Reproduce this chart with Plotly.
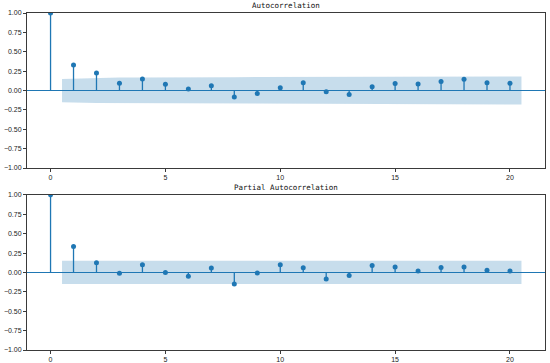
import plotly.graph_objects as go
from plotly.subplots import make_subplots

lags = list(range(0, 21))
acf_values = [1.0, 0.33, 0.225, 0.095, 0.15, 0.08, 0.02, 0.06, -0.085, -0.04,
              0.035, 0.10, -0.015, -0.05, 0.05, 0.09, 0.085, 0.115, 0.145, 0.10, 0.095]
pacf_values = [1.0, 0.335, 0.127, -0.01, 0.10, 0.0, -0.05, 0.057, -0.15, -0.005,
               0.10, 0.06, -0.085, -0.04, 0.09, 0.07, 0.02, 0.065, 0.07, 0.03, 0.02]
# confidence band half-widths for lags 1..20
acf_band = [0.150, 0.162, 0.167, 0.168, 0.171, 0.172, 0.172, 0.172, 0.173, 0.173,
            0.173, 0.174, 0.174, 0.174, 0.175, 0.176, 0.177, 0.178, 0.180, 0.181]
pacf_band = [0.150] * 20
titles = ["Autocorrelation", "Partial Autocorrelation"]
y_ticks = [-1.0, -0.75, -0.5, -0.25, 0.0, 0.25, 0.5, 0.75, 1.0]
x_ticks = [0, 5, 10, 15, 20]

C0 = "#1f77b4"
fig = make_subplots(rows=2, cols=1)

def add_panel(values, band, row):
    bx = [float(l) for l in lags[1:]]
    bx[0] -= 0.5
    bx[-1] += 0.5
    upper = list(band)
    lower = [-b for b in band]
    fig.add_trace(go.Scatter(x=bx + bx[::-1], y=upper + lower[::-1], fill="toself",
                             fillcolor="rgba(31,119,180,0.25)", line=dict(width=0),
                             mode="lines", hoverinfo="skip", showlegend=False), row=row, col=1)
    sx, sy = [], []
    for l, v in zip(lags, values):
        sx += [l, l, None]
        sy += [0, v, None]
    fig.add_trace(go.Scatter(x=sx, y=sy, mode="lines", line=dict(color=C0, width=1.3),
                             showlegend=False), row=row, col=1)
    fig.add_trace(go.Scatter(x=lags, y=values, mode="markers",
                             marker=dict(color=C0, size=5), showlegend=False), row=row, col=1)

add_panel(acf_values, acf_band, 1)
add_panel(pacf_values, pacf_band, 2)

domains = [[0.540, 1.0], [0.0, 0.46]]
tf = dict(size=7, color="#222", family="Liberation Sans")
for i in (1, 2):
    fig.update_xaxes(row=i, col=1, range=[-1.025, 21.525], tickvals=x_ticks, automargin=False,
                     showgrid=False, zeroline=False, showline=True, mirror=True,
                     linecolor="#3a3a3a", linewidth=1, ticks="outside", ticklen=3,
                     tickcolor="#3a3a3a", tickfont=tf)
    fig.update_yaxes(row=i, col=1, range=[-1.0, 1.0], domain=domains[i - 1], tickvals=y_ticks,
                     automargin=False, tickformat=".2f", showgrid=False, zeroline=True,
                     zerolinecolor=C0, zerolinewidth=1.3, showline=True, mirror=True,
                     linecolor="#3a3a3a", linewidth=1, ticks="outside", ticklen=3,
                     tickcolor="#3a3a3a", tickfont=tf)

for i, t in enumerate(titles):
    suffix = "" if i == 0 else "2"
    fig.add_annotation(text=t, xref=f"x{suffix} domain", yref=f"y{suffix} domain", x=0.5, y=1.0,
                       yanchor="bottom", showarrow=False, yshift=1,
                       font=dict(family="DejaVu Sans Mono", size=7.5, color="#111"))

fig.update_layout(width=550, height=363, margin=dict(l=27, r=5, t=13, b=13, autoexpand=False),
                  plot_bgcolor="white", paper_bgcolor="white")
fig.write_html("out.html", config={"responsive": False, "displayModeBar": False},
               post_script="document.body.style.margin='0';document.body.style.overflow='hidden';")
